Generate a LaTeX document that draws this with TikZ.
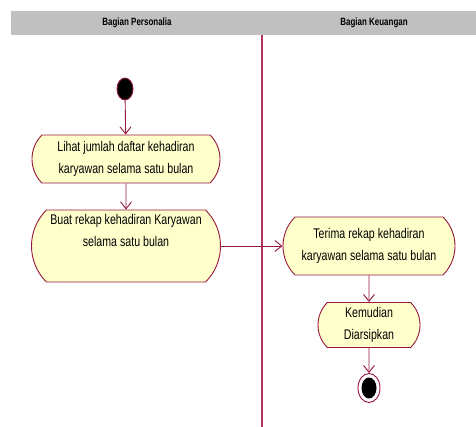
\documentclass[tikz,border=0pt]{standalone}
\usepackage{fontspec}
\newfontfamily\umlfont[FakeStretch=0.76]{Liberation Sans}
\usetikzlibrary{shapes.geometric}
\usetikzlibrary{shapes.misc}
\usetikzlibrary{arrows.meta}
\definecolor{umlred}{RGB}{150,25,60}
\definecolor{lanered}{RGB}{180,50,100}
\definecolor{actfill}{RGB}{255,255,204}
\definecolor{headgray}{RGB}{192,192,192}

\begin{document}
\begin{tikzpicture}[x=1pt, y=-1pt,
    act/.style = {rounded rectangle, rounded rectangle arc length=90, draw=umlred,
                  line width=0.9pt, fill=actfill, align=center, inner sep=0pt,
                  font=\umlfont\fontsize{14}{22}\selectfont},
    startdot/.style = {ellipse, draw=umlred, line width=0.9pt, fill=black, inner sep=0pt},
    endring/.style = {ellipse, draw=umlred, line width=0.9pt, fill=white, inner sep=0pt},
    flow/.style = {draw=umlred, line width=0.9pt, -{Straight Barb[length=7pt,width=11pt]}},
    lanehead/.style = {font=\umlfont\bfseries\fontsize{10.5}{12}\selectfont}]
  \useasboundingbox (0,0) rectangle (476,427);

  % swimlane header
  \fill[headgray] (11,11) rectangle (476,35);
  \node[lanehead] (laneA) at (137,23) {Bagian Personalia};
  \node[lanehead] (laneB) at (374,23) {Bagian Keuangan};
  \draw[lanered, line width=1.4pt] (262,35) -- (262,427);

  \node[startdot, minimum width=16pt, minimum height=22pt] (start) at (125,89) {};
  \node[act, minimum width=188pt, minimum height=48pt] (lihat) at (126,159)
       {Lihat jumlah daftar kehadiran\\karyawan selama satu bulan};
  \node[act, minimum width=189pt, minimum height=72pt] (buat) at (126,246)
       {Buat rekap kehadiran Karyawan\\selama satu bulan\\[10pt]\mbox{}};
  \node[act, minimum width=172pt, minimum height=58pt] (terima) at (369,246)
       {Terima rekap kehadiran\\karyawan selama satu bulan};
  \node[act, minimum width=102pt, minimum height=45pt] (arsip) at (369,325)
       {Kemudian\\Diarsipkan};
  \node[endring, minimum width=22pt, minimum height=29pt] (end) at (369,388) {};
  \node[startdot, draw=none, minimum width=15pt, minimum height=21pt] (enddot) at (end) {};

  \draw[flow] (start) -- (lihat);
  \draw[flow] (lihat) -- (buat);
  \draw[flow] (buat.east) -- (terima.west);
  \draw[flow] (terima) -- (arsip);
  \draw[flow] (arsip) -- (end);
\end{tikzpicture}
\end{document}
